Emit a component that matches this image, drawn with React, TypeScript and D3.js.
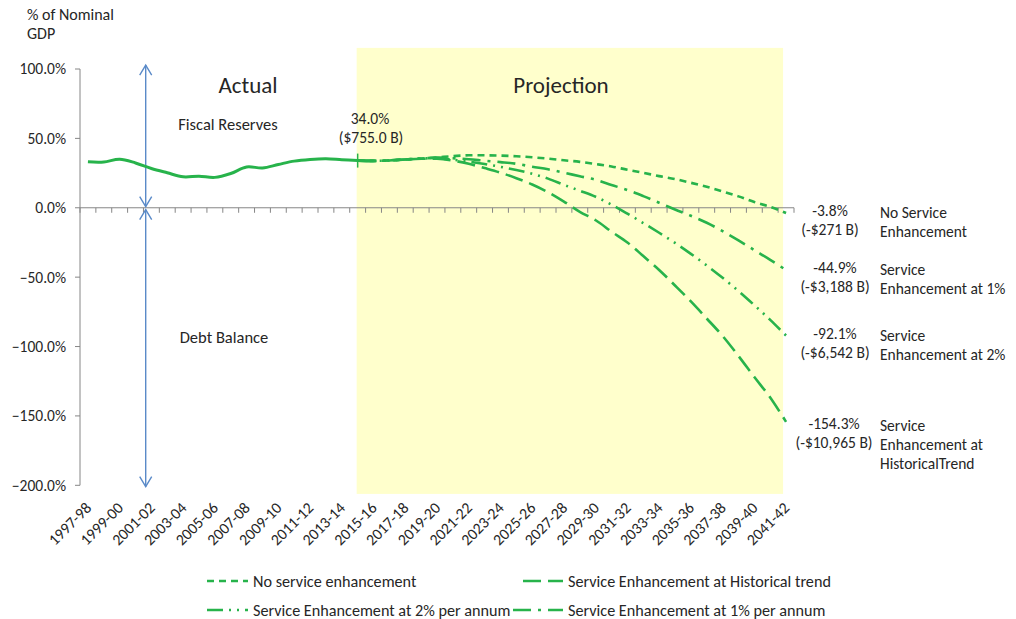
import React from "react";
import * as d3 from "d3";

const categories = [
  "1997-98","1998-99","1999-00","2000-01","2001-02","2002-03","2003-04","2004-05","2005-06","2006-07",
  "2007-08","2008-09","2009-10","2010-11","2011-12","2012-13","2013-14","2014-15","2015-16","2016-17",
  "2017-18","2018-19","2019-20","2020-21","2021-22","2022-23","2023-24","2024-25","2025-26","2026-27",
  "2027-28","2028-29","2029-30","2030-31","2031-32","2032-33","2033-34","2034-35","2035-36","2036-37",
  "2037-38","2038-39","2039-40","2040-41","2041-42",
];

// Actual fiscal reserves, 1997-98 .. 2014-15 (% of nominal GDP)
const actualValues = [33.1, 33.0, 35.0, 32.3, 28.3, 25.2, 22.3, 22.7, 21.9, 24.7, 29.4, 28.7, 31.2, 33.6, 34.8, 35.3, 34.6, 34.0];

// Projections, 2014-15 .. 2041-42
const projStart = 17;
const noServiceValues = [34.0, 33.8, 34.1, 34.8, 35.5, 36.3, 37.2, 37.8, 37.8, 37.6, 37.1, 36.4, 35.4, 34.2, 33.1, 31.5, 29.8, 27.4, 25.2, 22.8, 20.7, 18.0, 15.1, 11.8, 8.2, 4.1, 0.7, -3.8];
const enh1Values = [34.0, 33.8, 34.1, 34.8, 35.5, 36.1, 35.7, 35.0, 33.9, 32.9, 31.7, 29.6, 27.7, 25.3, 22.7, 20.2, 16.4, 12.8, 8.4, 3.6, -1.2, -5.8, -10.8, -16.8, -23.5, -30.5, -37.5, -44.9];
const enh2Values = [34.0, 33.8, 34.1, 34.8, 35.4, 35.8, 34.6, 33.2, 31.5, 29.5, 27.2, 24.5, 21.0, 16.5, 12.3, 7.9, 2.2, -4.3, -11.0, -18.0, -25.3, -33.2, -41.6, -50.5, -60.0, -70.2, -80.8, -92.1];
const histValues = [34.0, 33.8, 34.1, 34.8, 35.3, 35.3, 34.0, 31.7, 28.6, 25.3, 21.3, 16.8, 11.2, 4.5, -2.9, -9.0, -17.2, -25.0, -34.8, -44.8, -56.0, -67.5, -79.8, -92.4, -106.8, -122.0, -136.7, -154.3];

const yTicks = [100, 50, 0, -50, -100, -150, -200];

const endLabelPct = ["-3.8%", "-44.9%", "-92.1%", "-154.3%"];
const endLabelAmt = ["(-$271 B)", "(-$3,188 B)", "(-$6,542 B)", "(-$10,965 B)"];
const endLabelName = [["No Service", "Enhancement"], ["Service", "Enhancement at 1%"], ["Service", "Enhancement at 2%"], ["Service", "Enhancement at", "HistoricalTrend"]];

const legendNames = ["No service enhancement", "Service Enhancement at Historical trend", "Service Enhancement at 2% per annum", "Service Enhancement at 1% per annum"];

const FONT = "Carlito, Calibri, Lato, sans-serif";
const GREEN = "#27B34B";
const TEXT = "#262626";
const AXIS = "#868686";
const BLUE = "#5A8AC8";

const dashNo = "7,5";
const dashHist = "18,7";
const dash1 = "18,7,3,7";
const dash2 = "16,6,2,6,2,6";

export default function App() {
  const x = d3.scaleBand<string>().domain(categories).range([80, 794]).padding(0);
  const bw = x.bandwidth();
  const cx = (i: number) => (x(categories[i]) as number) + bw / 2;
  const y = d3.scaleLinear().domain([-200, 100]).range([485.3, 69]);
  const y0 = y(0);

  const line = d3
    .line<number>()
    .x((_, i) => cx(i))
    .y((d) => y(d))
    .curve(d3.curveCatmullRom.alpha(0.5));
  const projLine = d3
    .line<number>()
    .x((_, i) => cx(i + projStart))
    .y((d) => y(d))
    .curve(d3.curveCatmullRom.alpha(0.5));

  const series = [
    { values: noServiceValues, dash: dashNo },
    { values: enh1Values, dash: dash1 },
    { values: enh2Values, dash: dash2 },
    { values: histValues, dash: dashHist },
  ];

  const shadeX0 = cx(projStart) - 1;
  const shadeX1 = cx(categories.length - 1) - 3;
  const shadeTop = y(115.2);
  const shadeBottom = y(-206.2);

  const lastX = cx(projStart);
  const lastY = y(actualValues[actualValues.length - 1]);

  const endOffsets = [3, 3, 3, 7];
  const endCx = [830, 835, 835, 834];

  const arrow = (xp: number, ya: number, yb: number, key: string) => (
    <g key={key} stroke={BLUE} strokeWidth={1.4} fill="none">
      <line x1={xp} x2={xp} y1={ya} y2={yb} />
      <polyline points={`${xp - 6},${ya + 10} ${xp},${ya} ${xp + 6},${ya + 10}`} />
      <polyline points={`${xp - 6},${yb - 10} ${xp},${yb} ${xp + 6},${yb - 10}`} />
    </g>
  );
  const arrowX = cx(4) - 5.7;

  const legendItems = [
    { name: legendNames[0], dash: dashNo, x1: 207, x2: 248, y: 581 },
    { name: legendNames[1], dash: dashHist, x1: 523, x2: 563, y: 581 },
    { name: legendNames[2], dash: dash2, x1: 207, x2: 248, y: 610 },
    { name: legendNames[3], dash: dash1, x1: 513, x2: 563, y: 610 },
  ];

  const FS = 15.5;

  return (
    <svg
      width={1016}
      height={619}
      style={{ position: "absolute", left: 0, top: 0, background: "#fff" }}
      fontFamily={FONT}
    >
      <rect x={0} y={0} width={1016} height={619} fill="#fff" />
      {/* projection shading */}
      <rect x={shadeX0} y={shadeTop} width={shadeX1 - shadeX0} height={shadeBottom - shadeTop} fill="#FFFFCC" />

      {/* axis title */}
      <text x={27} y={20} fontSize={16} fill={TEXT}>% of Nominal</text>
      <text x={27} y={39} fontSize={16} fill={TEXT}>GDP</text>

      {/* y axis */}
      <line x1={80} x2={80} y1={y(100)} y2={y(-200)} stroke={AXIS} strokeWidth={1} />
      {yTicks.map((t) => (
        <g key={t}>
          <line x1={75} x2={80} y1={y(t)} y2={y(t)} stroke={AXIS} />
          <text x={66} y={y(t)} dy="0.35em" textAnchor="end" fontSize={FS} fill={TEXT}>
            {d3.format(".1f")(t)}%
          </text>
        </g>
      ))}

      {/* x axis */}
      <line x1={80} x2={794} y1={y0} y2={y0} stroke={AXIS} strokeWidth={1} />
      {d3.range(categories.length + 1).map((i) => {
        const xp = 80 + i * bw;
        return <line key={i} x1={xp} x2={xp} y1={y0} y2={y0 + 5} stroke={AXIS} />;
      })}
      {categories.map((c, i) =>
        i % 2 === 0 ? (
          <text
            key={c}
            transform={`translate(${cx(i) + 0.5},${505}) rotate(-45)`}
            dy="0.35em"
            textAnchor="end"
            fontSize={15.8}
            fill={TEXT}
          >
            {c}
          </text>
        ) : null
      )}

      {/* arrows */}
      {arrow(arrowX, y(102.8), y(0.9), "a1")}
      {arrow(arrowX, y(-1.3), y(-201), "a2")}

      {/* section titles */}
      <text x={248} y={93} textAnchor="middle" fontSize={23} fill={TEXT}>Actual</text>
      <text x={561} y={93} textAnchor="middle" fontSize={23} fill={TEXT}>Projection</text>
      <text x={228} y={130} textAnchor="middle" fontSize={16.5} fill={TEXT}>Fiscal Reserves</text>
      <text x={224} y={343} textAnchor="middle" fontSize={16.5} fill={TEXT}>Debt Balance</text>

      {/* projection lines */}
      {series.map((s, k) => (
        <path key={k} d={projLine(s.values) || ""} fill="none" stroke={GREEN} strokeWidth={2.6} strokeDasharray={s.dash} />
      ))}

      {/* actual */}
      <path d={line(actualValues) || ""} fill="none" stroke={GREEN} strokeWidth={3} />
      <line x1={lastX} x2={lastX} y1={lastY - 7} y2={lastY + 7} stroke={GREEN} strokeWidth={1.5} />
      <text x={370} y={124} textAnchor="middle" fontSize={FS} fill={TEXT}>34.0%</text>
      <text x={371} y={143} textAnchor="middle" fontSize={FS} fill={TEXT}>($755.0 B)</text>

      {/* end labels */}
      {series.map((s, k) => {
        const base = y(s.values[s.values.length - 1]) + endOffsets[k];
        return (
          <g key={k} fontSize={FS} fill={TEXT}>
            <text x={endCx[k]} y={base} textAnchor="middle">{endLabelPct[k]}</text>
            <text x={endCx[k]} y={base + 19} textAnchor="middle">{endLabelAmt[k]}</text>
            {endLabelName[k].map((n, j) => (
              <text key={j} x={880} y={base + 2 + j * 19}>{n}</text>
            ))}
          </g>
        );
      })}

      {/* legend */}
      {legendItems.map((l, k) => (
        <g key={k}>
          <line x1={l.x1} x2={l.x2} y1={l.y} y2={l.y} stroke={GREEN} strokeWidth={2.6} strokeDasharray={l.dash} />
          <text x={l.x2 + 5} y={l.y} dy="0.35em" fontSize={16.2} fill={TEXT}>{l.name}</text>
        </g>
      ))}
    </svg>
  );
}
